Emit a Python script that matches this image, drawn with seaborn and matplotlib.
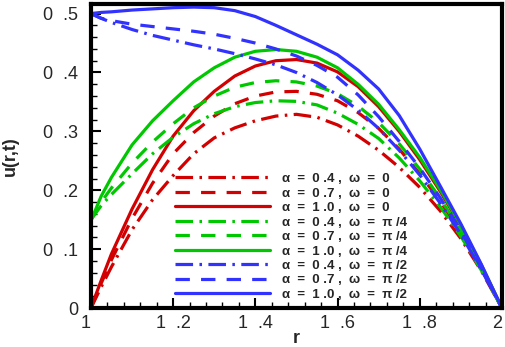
import matplotlib
matplotlib.use("Agg")
import matplotlib.pyplot as plt
import seaborn as sns
import pandas as pd
from matplotlib.ticker import MultipleLocator, FixedLocator

# values
r_vals = [1.00, 1.025, 1.05, 1.10, 1.15, 1.20, 1.25, 1.30, 1.35, 1.40, 1.45, 1.50,
          1.55, 1.60, 1.65, 1.70, 1.75, 1.80, 1.85, 1.90, 1.95, 2.00]

u_red_a04 = [0.000, 0.036, 0.070, 0.133, 0.184, 0.225, 0.262, 0.289, 0.306, 0.318, 0.326, 0.329,
             0.324, 0.311, 0.292, 0.268, 0.239, 0.205, 0.165, 0.118, 0.063, 0.000]
u_red_a07 = [0.000, 0.042, 0.082, 0.152, 0.212, 0.262, 0.298, 0.326, 0.347, 0.360, 0.367, 0.368,
             0.363, 0.352, 0.332, 0.305, 0.270, 0.228, 0.181, 0.128, 0.067, 0.000]
u_red_a10 = [0.000, 0.047, 0.092, 0.168, 0.235, 0.292, 0.335, 0.368, 0.394, 0.411, 0.420, 0.422,
             0.416, 0.401, 0.376, 0.342, 0.300, 0.252, 0.198, 0.139, 0.072, 0.000]

u_green_a04 = [0.150, 0.174, 0.193, 0.228, 0.262, 0.290, 0.313, 0.330, 0.342, 0.349, 0.352, 0.351,
               0.345, 0.331, 0.312, 0.288, 0.255, 0.216, 0.172, 0.122, 0.064, 0.000]
u_green_a07 = [0.150, 0.180, 0.204, 0.246, 0.282, 0.313, 0.340, 0.360, 0.375, 0.383, 0.386, 0.384,
               0.377, 0.364, 0.343, 0.315, 0.279, 0.236, 0.186, 0.131, 0.068, 0.000]
u_green_a10 = [0.148, 0.190, 0.222, 0.277, 0.318, 0.352, 0.384, 0.408, 0.426, 0.436, 0.439, 0.436,
               0.426, 0.408, 0.380, 0.346, 0.303, 0.256, 0.201, 0.141, 0.073, 0.000]

u_blue_a04 = [0.500, 0.492, 0.485, 0.473, 0.463, 0.455, 0.447, 0.440, 0.432, 0.423, 0.413, 0.400,
              0.383, 0.362, 0.336, 0.305, 0.268, 0.226, 0.178, 0.125, 0.065, 0.000]
u_blue_a07 = [0.500, 0.492, 0.488, 0.482, 0.478, 0.474, 0.470, 0.465, 0.458, 0.450, 0.440, 0.428,
              0.412, 0.392, 0.362, 0.325, 0.283, 0.238, 0.187, 0.131, 0.068, 0.000]
u_blue_a10 = [0.500, 0.502, 0.503, 0.506, 0.508, 0.510, 0.511, 0.510, 0.505, 0.495, 0.480, 0.464,
              0.448, 0.430, 0.404, 0.372, 0.327, 0.270, 0.207, 0.143, 0.074, 0.000]

labels = [
    "\u03b1  =  0 .4 ,  \u03c9  =  0",
    "\u03b1  =  0 .7 ,  \u03c9  =  0",
    "\u03b1  =  1 .0 ,  \u03c9  =  0",
    "\u03b1  =  0 .4 ,  \u03c9  =  \u03c0 /4",
    "\u03b1  =  0 .7 ,  \u03c9  =  \u03c0 /4",
    "\u03b1  =  1 .0 ,  \u03c9  =  \u03c0 /4",
    "\u03b1  =  0 .4 ,  \u03c9  =  \u03c0 /2",
    "\u03b1  =  0 .7 ,  \u03c9  =  \u03c0 /2",
    "\u03b1  =  1 .0 ,  \u03c9  =  \u03c0 /2",
]
series = [u_red_a04, u_red_a07, u_red_a10,
          u_green_a04, u_green_a07, u_green_a10,
          u_blue_a04, u_blue_a07, u_blue_a10]

x_ticks = [1.0, 1.2, 1.4, 1.6, 1.8, 2.0]
x_tick_labels = ["1", "1  .2", "1  .4", "1  .6", "1  .8", "2"]
y_ticks = [0.0, 0.1, 0.2, 0.3, 0.4, 0.5]
y_tick_labels = ["0", "0  .1", "0  .2", "0  .3", "0  .4", "0  .5"]

RED, GREEN, BLUE = "#d20000", "#00c800", "#3232ff"
colors = [RED] * 3 + [GREEN] * 3 + [BLUE] * 3
dashdot = (5.5, 2.0, 0.8, 2.0)
dashed = (4.5, 3.5)
dash_list = [dashdot, dashed, ""] * 3

df = pd.concat([pd.DataFrame({"r": r_vals, "u": uu, "case": lab})
                for lab, uu in zip(labels, series)], ignore_index=True)

sns.set_style("ticks")
plt.rcParams["font.family"] = ["Liberation Sans", "DejaVu Sans"]

fig = plt.figure(figsize=(5.05, 3.47), dpi=100)
ax = fig.add_axes([0.180, 0.112, 0.814, 0.876])

sns.lineplot(data=df, x="r", y="u", hue="case", style="case",
             hue_order=labels, style_order=labels,
             palette=dict(zip(labels, colors)),
             dashes=dict(zip(labels, dash_list)),
             linewidth=2.3, sort=False, estimator=None, ax=ax)

ax.set_xlim(1.0, 2.0)
ax.set_ylim(0.0, 0.516)

ax.xaxis.set_major_locator(FixedLocator(x_ticks))
ax.set_xticklabels(x_tick_labels)
ax.yaxis.set_major_locator(FixedLocator(y_ticks))
ax.set_yticklabels(y_tick_labels)
ax.xaxis.set_minor_locator(MultipleLocator(0.04))
ax.yaxis.set_minor_locator(MultipleLocator(0.02))
ax.tick_params(which="both", direction="in", top=False, right=False,
               color="black", labelsize=13)
ax.tick_params(which="major", length=7, width=1.5)
ax.tick_params(which="minor", length=4, width=1)
ax.tick_params(axis="y", which="major", pad=9)
ax.tick_params(axis="x", which="major", pad=5)
xt = ax.get_xticklabels()
xt[0].set_ha("right")
xt[-1].set_ha("right")

for sp in ax.spines.values():
    sp.set_linewidth(3)
    sp.set_color("black")

ax.set_xlabel("r", fontsize=13, fontweight="bold")
ax.set_ylabel("u(r,t)", fontsize=13, fontweight="bold")
ax.xaxis.set_label_coords(0.5, -0.072)
ax.yaxis.set_label_coords(-0.175, 0.5)

ax.legend(loc="upper left", bbox_to_anchor=(0.204, 0.445),
          frameon=False, borderaxespad=0, borderpad=0,
          handlelength=7.2, handletextpad=0.9, labelspacing=0.17,
          prop={"size": 9.5, "weight": "bold"})

fig.savefig("out.png", dpi=100)
